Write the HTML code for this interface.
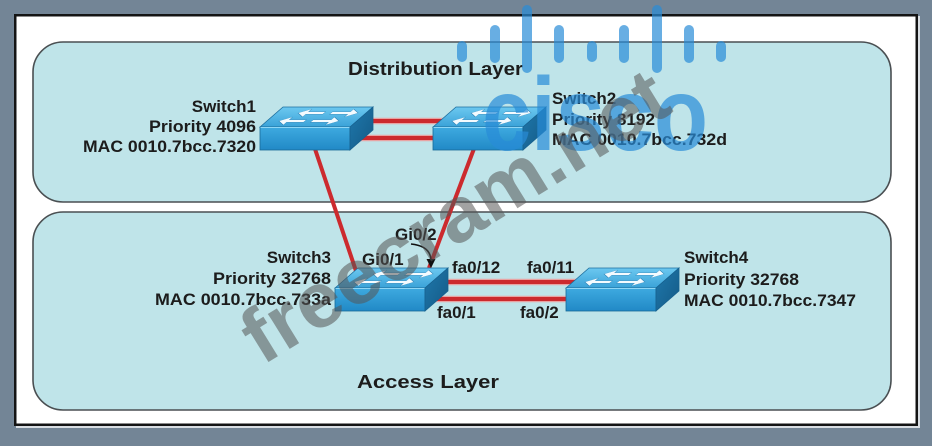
<!DOCTYPE html>
<html>
<head>
<meta charset="utf-8">
<style>
  html, body { margin: 0; padding: 0; background: #738596; }
  svg { display: block; }
  .lbl { font-family: "Liberation Sans", Arial, sans-serif; font-weight: bold; font-size: 17px; fill: #1c1c1c; }
  .ttl { font-family: "Liberation Sans", Arial, sans-serif; font-weight: bold; font-size: 18px; fill: #1c1c1c; }
</style>
</head>
<body>
<svg width="932" height="446" viewBox="0 0 932 446" xmlns="http://www.w3.org/2000/svg">
  <defs>
    <linearGradient id="gTop" x1="0" y1="0" x2="0" y2="1">
      <stop offset="0" stop-color="#6cc8f0"/>
      <stop offset="1" stop-color="#3aa2d8"/>
    </linearGradient>
    <linearGradient id="gFront" x1="0" y1="0" x2="0" y2="1">
      <stop offset="0" stop-color="#3eaae0"/>
      <stop offset="1" stop-color="#2189c6"/>
    </linearGradient>
    <linearGradient id="gSide" x1="0" y1="0" x2="1" y2="1">
      <stop offset="0" stop-color="#1f78ac"/>
      <stop offset="1" stop-color="#145a86"/>
    </linearGradient>
    <g id="sw">
      <polygon points="0,20 23,0 113,0 90,20" fill="url(#gTop)" stroke="#1d6e9e" stroke-width="0.8"/>
      <rect x="0" y="20" width="90" height="23" fill="url(#gFront)" stroke="#1a6a98" stroke-width="0.8"/>
      <polygon points="90,20 113,0 113,23 90,43" fill="url(#gSide)" stroke="#17618f" stroke-width="0.8"/>
      <line x1="0.5" y1="20.5" x2="89.5" y2="20.5" stroke="#8fd6f5" stroke-width="1"/>
      <g transform="matrix(1,0,-1.15,1,23,0)" fill="#f4fbff" stroke="#2a7fb3" stroke-width="0.4">
        <polygon points="22,6 31,2 31,4.7 48,4.7 48,7.3 31,7.3 31,10"/>
        <polygon points="82,6 73,2 73,4.7 55,4.7 55,7.3 73,7.3 73,10"/>
        <polygon points="12,14 21,10 21,12.7 38,12.7 38,15.3 21,15.3 21,18"/>
        <polygon points="72,14 63,10 63,12.7 45,12.7 45,15.3 63,15.3 63,18"/>
      </g>
    </g>
  </defs>

  <!-- background + frame -->
  <rect x="0" y="0" width="932" height="446" fill="#738596"/>
  <rect x="16" y="16" width="904" height="412" fill="#d9dee3"/>
  <rect x="14" y="14" width="904" height="412" fill="#141414"/>
  <rect x="16.5" y="16.5" width="899" height="407" fill="#ffffff"/>

  <!-- panels -->
  <rect x="33" y="42" width="858" height="160" rx="30" ry="30" fill="#bfe4e9" stroke="#4a4f52" stroke-width="1.6"/>
  <rect x="33" y="212" width="858" height="198" rx="30" ry="30" fill="#bfe4e9" stroke="#4a4f52" stroke-width="1.6"/>

  <!-- links: halo -->
  <g stroke="#e8a3a3" stroke-width="6.5" stroke-linecap="butt" fill="none">
    <line x1="360" y1="121" x2="450" y2="121"/>
    <line x1="350" y1="138" x2="440" y2="138"/>
    <line x1="440" y1="282" x2="590" y2="282"/>
    <line x1="420" y1="299" x2="570" y2="299"/>
  </g>
  <g stroke="#cc2a2e" stroke-width="4" stroke-linecap="butt" fill="none">
    <line x1="360" y1="121" x2="450" y2="121"/>
    <line x1="350" y1="138" x2="440" y2="138"/>
    <line x1="440" y1="282" x2="590" y2="282"/>
    <line x1="420" y1="299" x2="570" y2="299"/>
    <line x1="314" y1="146" x2="357" y2="274"/>
    <line x1="475" y1="146" x2="429" y2="268"/>
  </g>

  <!-- switches -->
  <use href="#sw" x="260" y="107"/>
  <use href="#sw" x="433" y="107"/>
  <use href="#sw" x="335" y="268"/>
  <use href="#sw" x="566" y="268"/>

  <!-- Gi0/2 arrow -->
  <path d="M411,244 Q431,246 431,261" fill="none" stroke="#111" stroke-width="1.6"/>
  <polygon points="426.5,259 435.5,259 431,268" fill="#111"/>

  <!-- titles -->
  <text class="ttl" x="348" y="75" textLength="175" lengthAdjust="spacingAndGlyphs">Distribution Layer</text>
  <text class="ttl" x="357" y="388" textLength="142" lengthAdjust="spacingAndGlyphs">Access Layer</text>

  <!-- Switch1 -->
  <text class="lbl" x="256" y="112" text-anchor="end">Switch1</text>
  <text class="lbl" x="256" y="132" text-anchor="end" textLength="107" lengthAdjust="spacingAndGlyphs">Priority 4096</text>
  <text class="lbl" x="256" y="152" text-anchor="end" textLength="173" lengthAdjust="spacingAndGlyphs">MAC 0010.7bcc.7320</text>

  <!-- Switch2 -->
  <text class="lbl" x="552" y="104">Switch2</text>
  <text class="lbl" x="552" y="125" textLength="103" lengthAdjust="spacingAndGlyphs">Priority 8192</text>
  <text class="lbl" x="552" y="145" textLength="175" lengthAdjust="spacingAndGlyphs">MAC 0010.7bcc.732d</text>

  <!-- Switch3 -->
  <text class="lbl" x="331" y="263" text-anchor="end">Switch3</text>
  <text class="lbl" x="331" y="284" text-anchor="end" textLength="118" lengthAdjust="spacingAndGlyphs">Priority 32768</text>
  <text class="lbl" x="331" y="305" text-anchor="end" textLength="176" lengthAdjust="spacingAndGlyphs">MAC 0010.7bcc.733a</text>

  <!-- Switch4 -->
  <text class="lbl" x="684" y="263">Switch4</text>
  <text class="lbl" x="684" y="285" textLength="115" lengthAdjust="spacingAndGlyphs">Priority 32768</text>
  <text class="lbl" x="684" y="306" textLength="172" lengthAdjust="spacingAndGlyphs">MAC 0010.7bcc.7347</text>

  <!-- port labels -->
  <text class="lbl" x="395" y="240">Gi0/2</text>
  <text class="lbl" x="362" y="265">Gi0/1</text>
  <text class="lbl" x="452" y="273">fa0/12</text>
  <text class="lbl" x="527" y="273">fa0/11</text>
  <text class="lbl" x="437" y="318">fa0/1</text>
  <text class="lbl" x="520" y="318">fa0/2</text>

  <!-- cisco watermark -->
  <g fill="rgba(40,140,215,0.7)">
    <rect x="457" y="41" width="10" height="21" rx="5"/>
    <rect x="490" y="25" width="10" height="38" rx="5"/>
    <rect x="522" y="5" width="10" height="68" rx="5"/>
    <rect x="554" y="25" width="10" height="38" rx="5"/>
    <rect x="587" y="41" width="10" height="21" rx="5"/>
    <rect x="619" y="25" width="10" height="38" rx="5"/>
    <rect x="652" y="5" width="10" height="68" rx="5"/>
    <rect x="684" y="25" width="10" height="38" rx="5"/>
    <rect x="716" y="41" width="10" height="21" rx="5"/>
    <text x="482" y="150" font-family="Liberation Sans, Arial, sans-serif" font-weight="bold" font-size="104" textLength="226" lengthAdjust="spacingAndGlyphs">cisco</text>
  </g>

  <!-- freecram watermark -->
  <text x="262" y="366" transform="rotate(-31.7 262 366)" font-family="Liberation Sans, Arial, sans-serif" font-weight="bold" font-size="78" fill="rgba(85,85,85,0.55)" textLength="485" lengthAdjust="spacingAndGlyphs">freecram.net</text>
</svg>
</body>
</html>
